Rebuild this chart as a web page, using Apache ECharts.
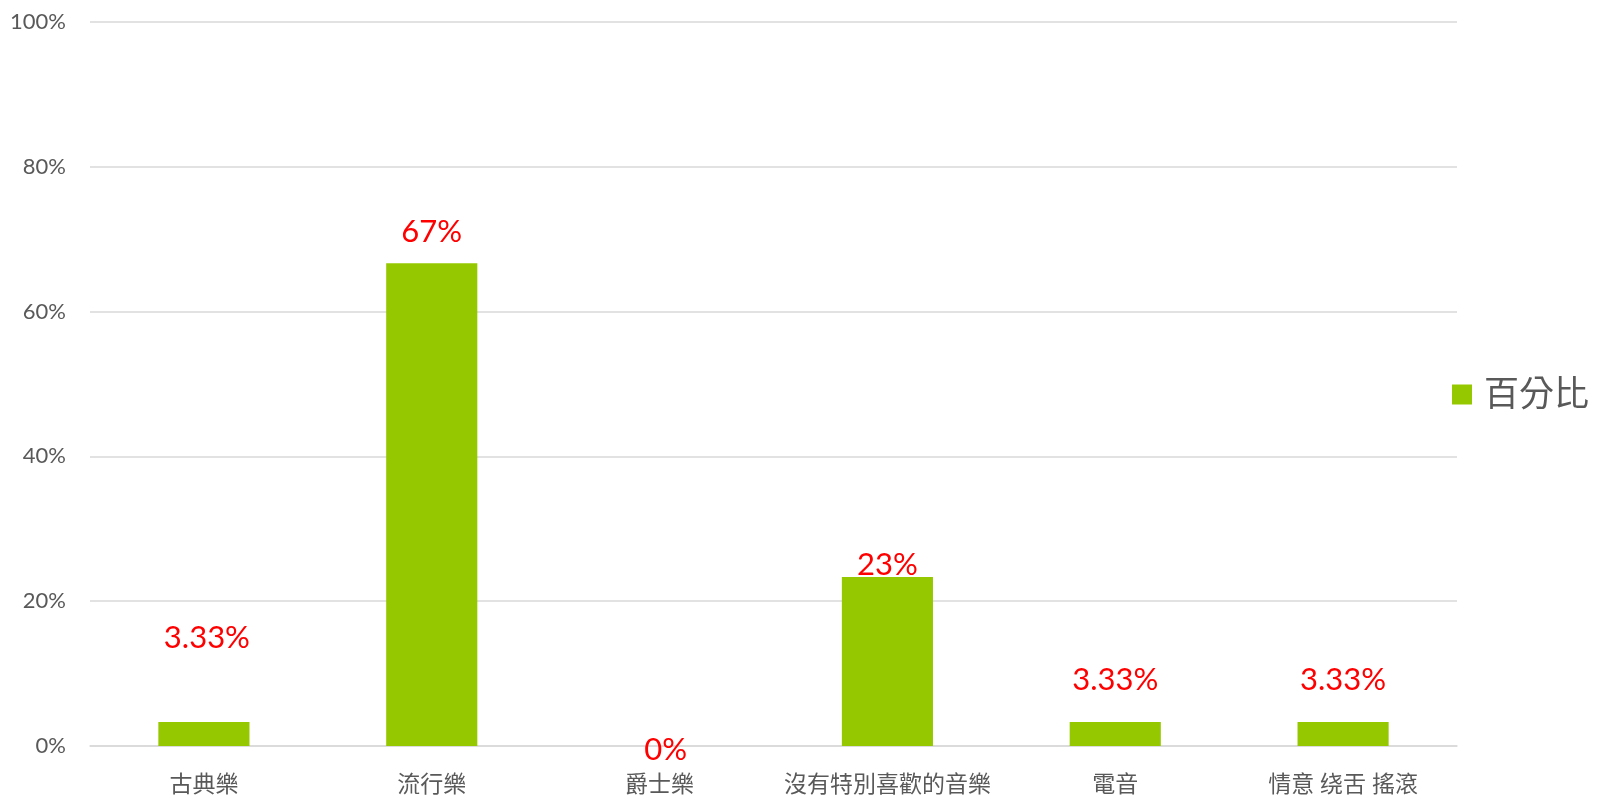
<!DOCTYPE html>
<html>
<head>
<meta charset="utf-8">
<script src="https://cdn.jsdelivr.net/npm/echarts@6/dist/echarts.min.js"></script>
<style>
html,body{margin:0;padding:0;background:#fff;}
#c{width:1602px;height:797px;}
</style>
</head>
<body>
<div id="c"></div>
<script>
var categories = ['古典樂', '流行樂', '爵士樂', '沒有特別喜歡的音樂', '電音', '情意 绕舌 搖滾'];
var values = [3.33, 66.67, 0, 23.33, 3.33, 3.33];
var labelTexts = ['3.33%', '67%', '0%', '23%', '3.33%', '3.33%'];
var yTicks = ['0%', '20%', '40%', '60%', '80%', '100%'];
var seriesName = '百分比';

var labelDistance = [68, 16, -19, -3, 26, 26];
var labelDx = [3, 0, 6, 0, 0, 0];

var font = "Lato, 'Noto Sans CJK TC', sans-serif";
var chart = echarts.init(document.getElementById('c'));
chart.setOption({
  animation: false,
  grid: { left: 90, right: 145, top: 22, bottom: 51, containLabel: false },
  legend: {
    right: 8, top: 372, orient: 'vertical',
    itemWidth: 20, itemHeight: 20, itemGap: 10,
    icon: 'rect',
    textStyle: { fontSize: 35, color: '#595959', fontFamily: font, padding: [0,0,0,7] },
    data: [seriesName]
  },
  xAxis: {
    type: 'category', data: categories,
    axisLine: { show: true, lineStyle: { color: '#D9D9D9', width: 1.5 } },
    axisTick: { show: false },
    axisLabel: { fontSize: 23, color: '#595959', fontFamily: font, margin: 27, interval: 0 }
  },
  yAxis: {
    type: 'value', min: 0, max: 100, interval: 20,
    axisLine: { show: false }, axisTick: { show: false },
    splitLine: { lineStyle: { color: '#D9D9D9', width: 1.5 } },
    axisLabel: {
      fontSize: 22, color: '#595959', fontFamily: font, margin: 24,
      formatter: function (v) { return yTicks[Math.round(v / 20)]; }
    }
  },
  series: [{
    name: seriesName, type: 'bar', barWidth: '40%',
    itemStyle: { color: '#96C800' },
    data: values.map(function (v, i) {
      return {
        value: v,
        label: {
          show: true, position: 'top', distance: labelDistance[i], offset: [labelDx[i], 0],
          formatter: labelTexts[i], color: '#FF0000', fontSize: 31, fontFamily: font
        }
      };
    })
  }]
});
</script>
</body>
</html>
